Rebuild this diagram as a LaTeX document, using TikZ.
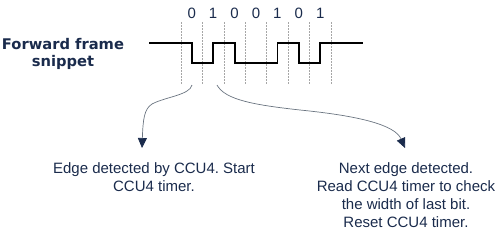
\documentclass[tikz,border=0pt]{standalone}
\usepackage{fontspec}
\setmainfont{Liberation Sans}
\newfontfamily\labelfont{DejaVu Sans}
\usetikzlibrary{arrows.meta}
\definecolor{navy}{HTML}{1A2B4C}
\definecolor{curvecol}{HTML}{6A7480}
\frenchspacing
\begin{document}
\begin{tikzpicture}[x=1pt,y=-1pt,
  grid/.style={draw=gray!70, line width=0.6pt, dash pattern=on 1.5pt off 1.5pt},
  wave/.style={draw=black, line width=1.8pt, line join=miter},
  callout/.style={draw=curvecol, line width=0.7pt, -{Triangle[length=10pt,width=9pt,color=navy]}},
  digit/.style={font=\fontsize{15}{18}\selectfont, text=navy, inner sep=0pt, anchor=base},
  desc/.style={font=\fontsize{15}{18.3}\selectfont, text=navy, align=center, inner sep=0pt, anchor=north},
]
\useasboundingbox (0,0) rectangle (500,231);
% bit boundaries
\foreach \x in {181,202.4,223.9,245.3,266.7,288.1,309.6,331}
  \draw[grid] (\x,22) -- (\x,85);
% bit values
\foreach \x/\b [count=\i] in {191.7/0,213.1/1,234.6/0,256/0,277.4/1,298.9/0,320.3/1}
  \node[digit] (d\i) at (\x,18.3) {\b};
% waveform
\draw[wave] (149,42.7) -- (191.7,42.7) -- (191.7,63.3) -- (213.1,63.3) -- (213.1,42.7)
  -- (234.6,42.7) -- (234.6,63.3) -- (277.4,63.3) -- (277.4,42.7) -- (298.9,42.7)
  -- (298.9,63.3) -- (320.3,63.3) -- (320.3,42.7) -- (363,42.7);
% label
\node[font=\labelfont\bfseries\fontsize{14.7}{17.4}\selectfont, text=navy, align=center,
  inner sep=0pt, anchor=north] (label) at (63,38) {Forward frame\\snippet};
% descriptions
\node[desc] (left) at (154,162) {Edge detected by CCU4. Start\\CCU4 timer.};
\node[desc] (right) at (406,162) {Next edge detected.\\Read CCU4 timer to check\\the width of last bit.\\Reset CCU4 timer.};
% callouts
\coordinate (s1) at (192,85);
\coordinate (e1) at (142,148);
\coordinate (s2) at (217,85);
\coordinate (e2) at (405,148);
\draw[callout] (s1) .. controls (190,95) and (165,97) .. (152,104)
  .. controls (144,109) and (143,120) .. (e1);
\draw[callout] (s2) .. controls (225,100) and (255,105) .. (300,110)
  .. controls (360,116) and (395,125) .. (e2);
\end{tikzpicture}
\end{document}
